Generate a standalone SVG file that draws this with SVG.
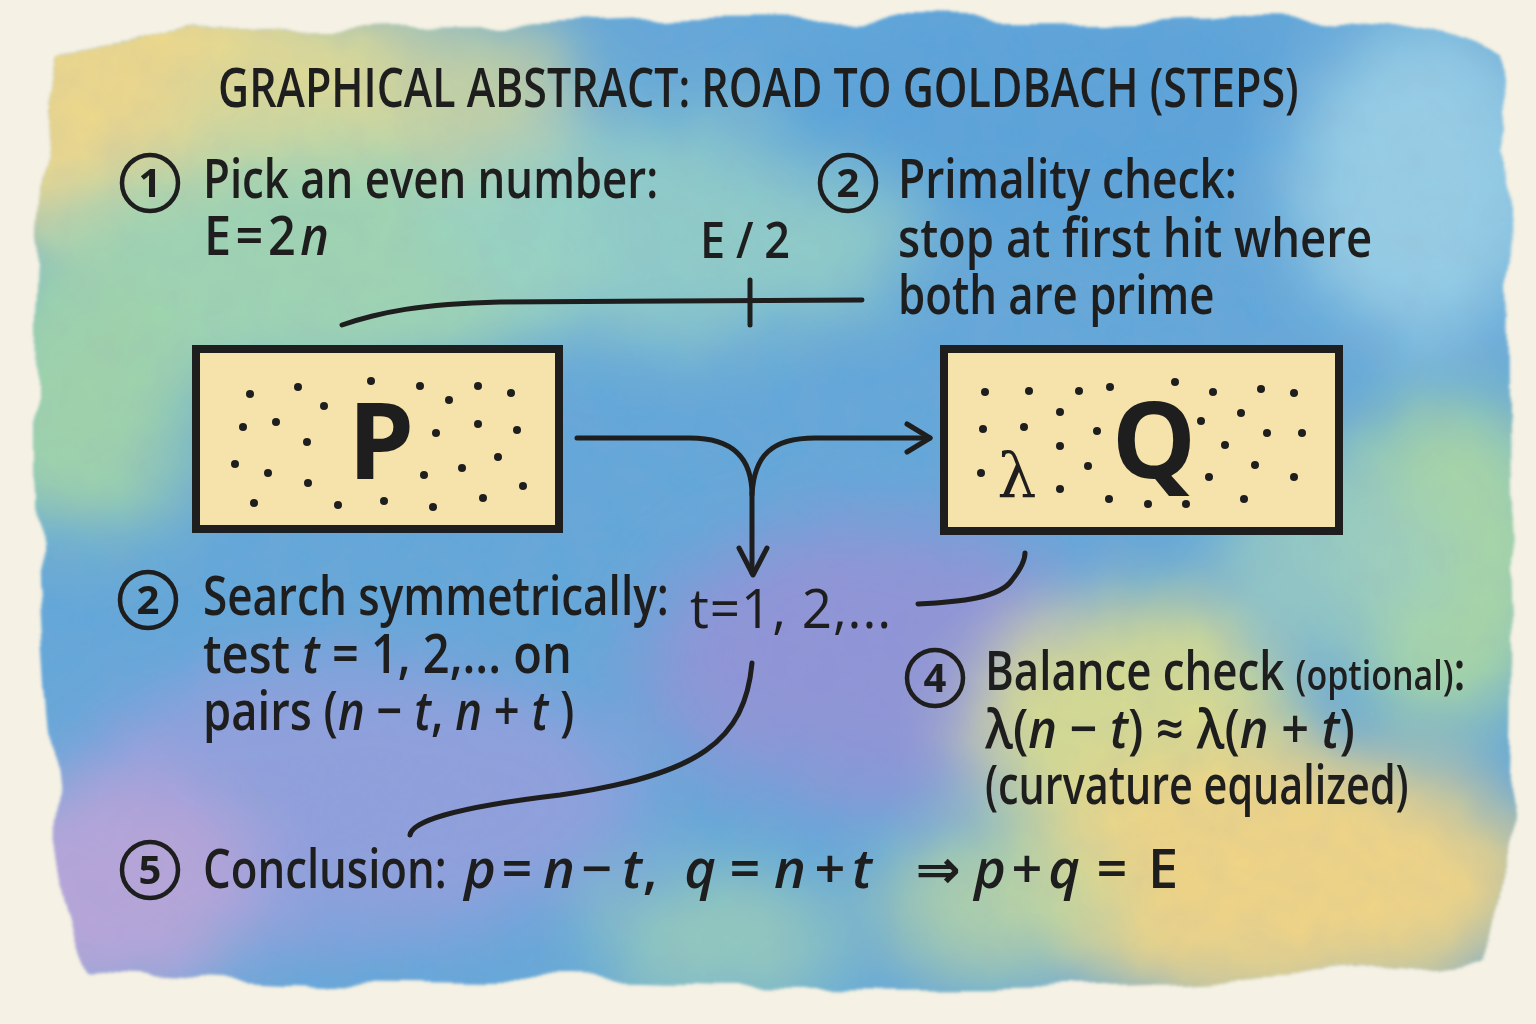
<svg xmlns="http://www.w3.org/2000/svg" width="1536" height="1024" viewBox="0 0 1536 1024">
<defs>
<style>
.t{font-family:"Open Sans","Noto Sans","DejaVu Sans",sans-serif;fill:#1e1e1e;font-weight:600;font-size:54px}
.i{font-style:italic}
.num{font-family:"Open Sans","DejaVu Sans",sans-serif;font-size:40px;fill:#1e1e1e;font-weight:700;text-anchor:middle}
.circ{fill:none;stroke:#1e1e1e;stroke-width:4.5}
.line{fill:none;stroke:#1e1e1e;stroke-width:5;stroke-linecap:round;stroke-linejoin:round}
.box{fill:#f6e2ab;stroke:#1e1e1e;stroke-width:8}
.dot{fill:#1e1e1e}
.big{font-family:"Open Sans","DejaVu Sans",sans-serif;fill:#1e1e1e;font-weight:700;font-size:106px;text-anchor:middle}
</style>
<filter id="rag" x="-5%" y="-5%" width="110%" height="110%">
<feTurbulence type="fractalNoise" baseFrequency="0.008" numOctaves="3" seed="4" result="n"/>
<feDisplacementMap in="SourceGraphic" in2="n" scale="36" xChannelSelector="R" yChannelSelector="G" result="d"/>
<feGaussianBlur in="d" stdDeviation="1.5"/>
</filter>
<filter id="soft"><feGaussianBlur stdDeviation="35"/></filter>
<filter id="grain"><feTurbulence type="fractalNoise" baseFrequency="0.03" numOctaves="4" seed="9"/><feColorMatrix values="0 0 0 0 0.3  0 0 0 0 0.35  0 0 0 0 0.5  0 0 0 0.16 0"/><feComposite in2="SourceGraphic" operator="in"/></filter>
<clipPath id="blobclip"><path d="M60,55 C200,20 400,30 600,22 C800,12 1000,28 1200,18 C1350,14 1450,28 1495,55 C1515,200 1505,400 1512,600 C1518,800 1505,900 1488,958 C1300,985 1000,992 700,985 C500,980 300,988 95,968 C55,900 38,700 32,500 C28,300 38,150 60,55 Z"/></clipPath>
</defs>
<rect width="1536" height="1024" fill="#f5f1e4"/>
<g id="background" filter="url(#rag)">
<g clip-path="url(#blobclip)">
<rect x="0" y="0" width="1536" height="1024" fill="#62a8db"/>
<g filter="url(#soft)">
<ellipse cx="150" cy="110" rx="260" ry="150" fill="#efd98a"/>
<ellipse cx="380" cy="90" rx="200" ry="90" fill="#dcdc96" opacity="0.8"/>
<ellipse cx="320" cy="260" rx="280" ry="120" fill="#9fd6b2"/>
<ellipse cx="80" cy="400" rx="120" ry="140" fill="#9fd4aa"/>
<ellipse cx="680" cy="230" rx="240" ry="110" fill="#96d4c6" opacity="0.85"/>
<ellipse cx="1050" cy="110" rx="300" ry="110" fill="#55a2db" opacity="0.8"/>
<ellipse cx="1420" cy="180" rx="130" ry="160" fill="#96cfe6"/>
<ellipse cx="1450" cy="560" rx="110" ry="170" fill="#a8d8a4"/>
<ellipse cx="1330" cy="560" rx="120" ry="90" fill="#9cd0c0" opacity="0.8"/>
<ellipse cx="880" cy="660" rx="240" ry="140" fill="#8f94d8"/>
<ellipse cx="350" cy="800" rx="300" ry="140" fill="#8fa0de"/>
<ellipse cx="110" cy="890" rx="150" ry="110" fill="#b7a5da"/>
<ellipse cx="720" cy="940" rx="130" ry="70" fill="#9fd2b6" opacity="0.8"/>
<ellipse cx="1130" cy="720" rx="160" ry="120" fill="#d6dc92"/>
<ellipse cx="1280" cy="880" rx="260" ry="130" fill="#f2d684"/>
<ellipse cx="1000" cy="900" rx="120" ry="80" fill="#bedaa0" opacity="0.8"/>
</g>
<rect x="0" y="0" width="1536" height="1024" fill="#fff" filter="url(#grain)"/>
</g>
</g>
<g id="title"><text class="t" transform="translate(218,107) scale(0.795,1)">GRAPHICAL ABSTRACT: ROAD TO GOLDBACH (STEPS)</text></g>
<g id="connectors">
<path class="line" stroke-width="4" d="M342,325 C380,312 420,304 500,302 L862,300"/>
<line class="line" stroke-width="4" x1="750" y1="280" x2="750" y2="325"/>
<path class="line" d="M577,438 L690,438 C735,438 752,460 752,495 L752,573"/>
<path class="line" d="M739,548 L753,575 L767,548"/>
<path class="line" d="M752,495 C754,455 772,438 815,438 L930,438"/>
<path class="line" d="M907,424 L930,438 L907,452"/>
<path class="line" stroke-width="4" d="M918,604 C960,602 1000,598 1012,580 C1020,570 1025,562 1025,553"/>
<path class="line" stroke-width="4" d="M752,663 C745,740 700,775 560,795 C450,808 412,822 410,835"/>
</g>
<g id="step1">
<circle class="circ" cx="150" cy="183" r="28"/><text class="num" x="150" y="197">1</text>
<text class="t" transform="translate(203,198) scale(0.81,1)">Pick an even number:</text>
<text class="t" style="letter-spacing:5px" transform="translate(204,255) scale(0.9,1)">E=2<tspan class="i">n</tspan></text>
</g>
<g id="e2label"><text class="t" style="font-size:50px;letter-spacing:12px" transform="translate(700,258) scale(0.9,1)">E/2</text></g>
<g id="step2a">
<circle class="circ" cx="848" cy="183" r="28"/><text class="num" x="848" y="197">2</text>
<text class="t" transform="translate(898,198) scale(0.82,1)">Primality check:</text>
<text class="t" transform="translate(898,257) scale(0.842,1)">stop at first hit where</text>
<text class="t" transform="translate(898,314) scale(0.81,1)">both are prime</text>
</g>
<g id="nodeP">
<rect class="box" x="196" y="349" width="363" height="180"/>
<g class="dot">
<circle cx="250" cy="394" r="4"/><circle cx="298" cy="387" r="4"/><circle cx="371" cy="381" r="4"/><circle cx="420" cy="386" r="4"/><circle cx="478" cy="386" r="4"/><circle cx="511" cy="393" r="4"/><circle cx="324" cy="406" r="4"/><circle cx="449" cy="400" r="4"/><circle cx="243" cy="427" r="4"/><circle cx="276" cy="422" r="4"/><circle cx="307" cy="442" r="4"/><circle cx="478" cy="424" r="4"/><circle cx="517" cy="430" r="4"/><circle cx="436" cy="433" r="4"/><circle cx="235" cy="464" r="4"/><circle cx="268" cy="473" r="4"/><circle cx="308" cy="483" r="4"/><circle cx="498" cy="457" r="4"/><circle cx="462" cy="468" r="4"/><circle cx="424" cy="475" r="4"/><circle cx="523" cy="486" r="4"/><circle cx="254" cy="503" r="4"/><circle cx="338" cy="505" r="4"/><circle cx="384" cy="501" r="4"/><circle cx="433" cy="507" r="4"/><circle cx="483" cy="498" r="4"/>
</g>
<text class="big" x="381" y="479">P</text>
</g>
<g id="nodeQ">
<rect class="box" x="944" y="349" width="395" height="182"/>
<g class="dot">
<circle cx="985" cy="392" r="4"/><circle cx="1029" cy="391" r="4"/><circle cx="1079" cy="391" r="4"/><circle cx="1110" cy="387" r="4"/><circle cx="1175" cy="382" r="4"/><circle cx="1213" cy="392" r="4"/><circle cx="1261" cy="389" r="4"/><circle cx="1294" cy="393" r="4"/><circle cx="1060" cy="412" r="4"/><circle cx="1241" cy="413" r="4"/><circle cx="983" cy="429" r="4"/><circle cx="1024" cy="427" r="4"/><circle cx="1097" cy="431" r="4"/><circle cx="1201" cy="421" r="4"/><circle cx="1267" cy="433" r="4"/><circle cx="1302" cy="433" r="4"/><circle cx="1060" cy="446" r="4"/><circle cx="1225" cy="445" r="4"/><circle cx="981" cy="473" r="4"/><circle cx="1088" cy="466" r="4"/><circle cx="1255" cy="465" r="4"/><circle cx="1209" cy="477" r="4"/><circle cx="1294" cy="477" r="4"/><circle cx="1060" cy="489" r="4"/><circle cx="1109" cy="499" r="4"/><circle cx="1148" cy="504" r="4"/><circle cx="1186" cy="504" r="4"/><circle cx="1244" cy="499" r="4"/>
</g>
<text class="big" x="1154" y="478">Q</text>
<text x="1017" y="497" font-size="62" text-anchor="middle" font-family="'DejaVu Serif','Liberation Serif',serif" fill="#1e1e1e">λ</text>
</g>
<g id="step2b">
<circle class="circ" cx="148" cy="600" r="28"/><text class="num" x="148" y="614">2</text>
<text class="t" transform="translate(203,615) scale(0.815,1)">Search symmetrically:</text>
<text class="t" transform="translate(203,673) scale(0.87,1)">test <tspan class="i">t</tspan> = 1, 2,... on</text>
<text class="t" transform="translate(203,730) scale(0.84,1)">pairs (<tspan class="i">n</tspan> − <tspan class="i">t</tspan>, <tspan class="i">n</tspan> + <tspan class="i">t</tspan> )</text>
</g>
<g id="tlabel"><text class="t" style="font-weight:500;letter-spacing:1px" transform="translate(690,628) scale(0.98,1)">t=1, 2,...</text></g>
<g id="step4">
<circle class="circ" cx="935" cy="678" r="28"/><text class="num" x="935" y="692">4</text>
<text class="t" transform="translate(985,690) scale(0.81,1)">Balance check <tspan style="font-size:42px">(optional)</tspan>:</text>
<text class="t" transform="translate(985,748) scale(0.9,1)">λ(<tspan class="i">n</tspan> − <tspan class="i">t</tspan>) ≈ λ(<tspan class="i">n</tspan> + <tspan class="i">t</tspan>)</text>
<text class="t" transform="translate(985,804) scale(0.765,1)">(curvature equalized)</text>
</g>
<g id="step5">
<circle class="circ" cx="150" cy="870" r="28"/><text class="num" x="150" y="884">5</text>
<text class="t" transform="translate(203,888) scale(0.81,1)">Conclusion:</text>
<text class="t" y="888" text-anchor="middle"><tspan class="i" x="480">p</tspan><tspan x="517">=</tspan><tspan class="i" x="559">n</tspan><tspan x="597">−</tspan><tspan class="i" x="632">t</tspan><tspan x="650">,</tspan><tspan class="i" x="700">q</tspan><tspan x="745">=</tspan><tspan class="i" x="790">n</tspan><tspan x="830">+</tspan><tspan class="i" x="862">t</tspan><tspan x="938">⇒</tspan><tspan class="i" x="990">p</tspan><tspan x="1027">+</tspan><tspan class="i" x="1064">q</tspan><tspan x="1112">=</tspan><tspan x="1163">E</tspan></text>
</g>
</svg>
